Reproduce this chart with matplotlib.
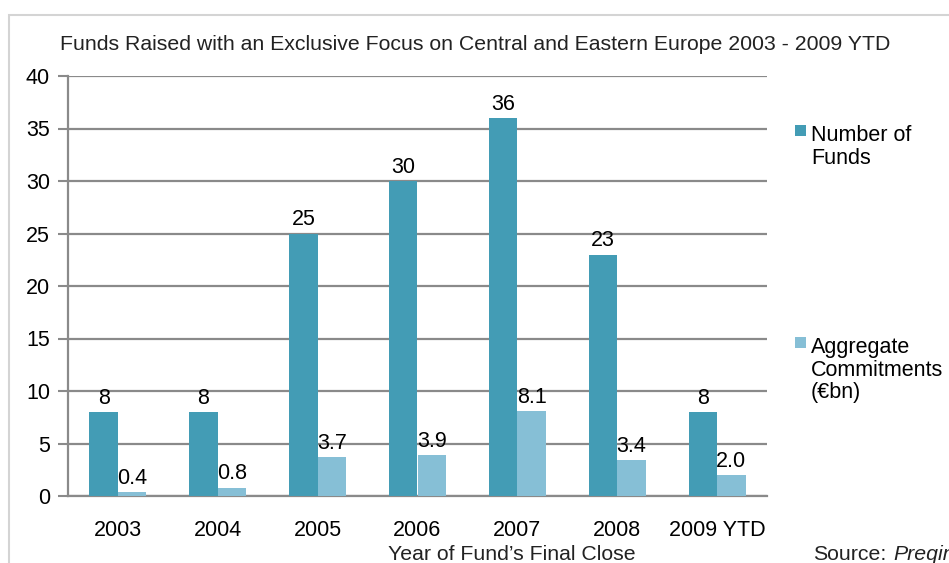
import matplotlib
matplotlib.use("Agg")
import matplotlib.pyplot as plt
import numpy as np
from matplotlib.patches import Rectangle

years = ["2003", "2004", "2005", "2006", "2007", "2008", "2009 YTD"]
num_funds = [8, 8, 25, 30, 36, 23, 8]
commitments = [0.4, 0.8, 3.7, 3.9, 8.1, 3.4, 2.0]
yticks = [0, 5, 10, 15, 20, 25, 30, 35, 40]

dark = "#439cb5"
light = "#86bfd6"
grid = "#8a8a8a"
txt = "#222222"

plt.rcParams["font.family"] = ["Liberation Sans", "DejaVu Sans"]

fig = plt.figure(figsize=(9.49, 5.63), dpi=100)
fig.patches.append(Rectangle((9 / 949, -0.1), 1.2, 1 - 15 / 563 + 0.1,
                             transform=fig.transFigure, fill=False,
                             edgecolor="#d4d4d4", linewidth=1.5))

ax = fig.add_axes([68 / 949, 67 / 563, 699 / 949, 420 / 563])
x = np.arange(len(years))
w = 0.285
b1 = ax.bar(x - w / 2, num_funds, w, color=dark, zorder=3)
b2 = ax.bar(x + w / 2, commitments, w, color=light, zorder=3)

for bars, vals, fmt in [(b1, num_funds, "{:d}"), (b2, commitments, "{:.1f}")]:
    for r, v in zip(bars, vals):
        ax.text(r.get_x() + r.get_width() / 2, v + 0.3, fmt.format(v),
                ha="center", va="bottom", fontsize=15.5, color="black", zorder=4)

ax.set_xlim(-0.5, len(years) - 0.5)
ax.set_ylim(0, 40)
ax.set_yticks(yticks)
ax.set_xticks(x)
ax.set_xticklabels(years)
ax.tick_params(axis="y", length=7, width=1.5, color=grid, labelsize=15.5, pad=6)
ax.tick_params(axis="x", length=0, labelsize=15.5, pad=17)
ax.yaxis.grid(True, color=grid, linewidth=1.6, zorder=0)
for s in ["top", "right"]:
    ax.spines[s].set_visible(False)
ax.spines["left"].set_color(grid)
ax.spines["left"].set_linewidth(1.6)
ax.spines["bottom"].set_color(grid)
ax.spines["bottom"].set_linewidth(1.6)

fig.text(60 / 949, 1 - 45 / 563,
         "Funds Raised with an Exclusive Focus on Central and Eastern Europe 2003 - 2009 YTD",
         fontsize=15.3, color=txt, va="center", ha="left")
fig.text(512 / 949, 1 - 555 / 563, "Year of Fund\u2019s Final Close",
         fontsize=15.3, ha="center", va="center", color=txt)
fig.text(813 / 949, 1 - 555 / 563, "Source:", fontsize=15.3, ha="left", va="center", color=txt)
fig.text(893 / 949, 1 - 555 / 563, "Preqin", fontsize=15.3, ha="left", va="center",
         color=txt, style="italic")

# legend: square next to the first line of each label
legend_items = [("Number of\nFunds", dark, 125), ("Aggregate\nCommitments\n(\u20acbn)", light, 337)]
for label, color, top in legend_items:
    fig.patches.append(Rectangle((795 / 949, 1 - (top + 11) / 563), 11 / 949, 11 / 563,
                                 transform=fig.transFigure, facecolor=color, edgecolor="none"))
    fig.text(811 / 949, 1 - top / 563, label, fontsize=15.5, ha="left", va="top",
             color="black", linespacing=1.1)

fig.savefig("out.png", dpi=100)
